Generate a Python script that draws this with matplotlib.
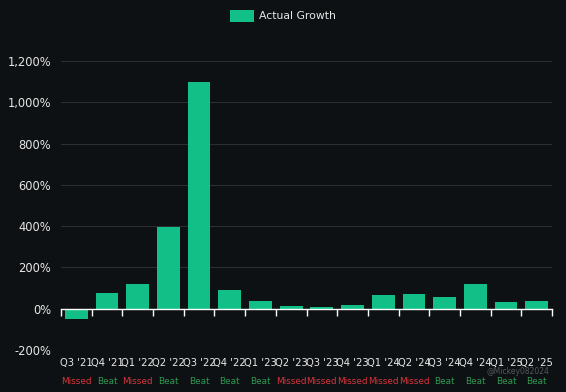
import numpy as np
import matplotlib.pyplot as plt
from matplotlib.ticker import FuncFormatter

quarters = ["Q3 '21", "Q4 '21", "Q1 '22", "Q2 '22", "Q3 '22", "Q4 '22",
            "Q1 '23", "Q2 '23", "Q3 '23", "Q4 '23", "Q1 '24", "Q2 '24",
            "Q3 '24", "Q4 '24", "Q1 '25", "Q2 '25"]
growth = [-50, 74, 122, 394, 1098, 89, 35, 13, 8, 16, 68, 71, 55, 121, 32, 35]
results = ["Missed", "Beat", "Missed", "Beat", "Beat", "Beat", "Beat", "Missed",
           "Missed", "Missed", "Missed", "Missed", "Beat", "Beat", "Beat", "Beat"]
y_ticks = [-200, 0, 200, 400, 600, 800, 1000, 1200]

bg = "#0e1113"
bar_color = "#12bf86"
result_colors = {"Missed": "#d9343c", "Beat": "#2e9a52"}

fig = plt.figure(figsize=(5.66, 3.92), dpi=100, facecolor=bg)
ax = fig.add_axes([61 / 566, 42 / 392, 491 / 566, 289 / 392], facecolor=bg)

x = np.arange(len(quarters))
ax.bar(x, growth, width=0.74, color=bar_color, label="Actual Growth", zorder=3)

ax.set_xlim(-0.5, len(quarters) - 0.5)
ax.set_ylim(y_ticks[0], y_ticks[-1])
ax.set_yticks(y_ticks)
ax.yaxis.set_major_formatter(FuncFormatter(lambda v, p: f"{v:,.0f}%"))
ax.tick_params(axis="y", length=0, pad=7, labelsize=8.3, labelcolor="#e6e6e6")
ax.grid(axis="y", color="#2b2f33", lw=0.8, zorder=0)

for s in ["top", "right", "left"]:
    ax.spines[s].set_visible(False)
ax.spines["bottom"].set_position(("data", 0))
ax.spines["bottom"].set_color("white")
ax.spines["bottom"].set_linewidth(1)
ax.spines["bottom"].set_zorder(4)
ax.set_xticks(np.arange(len(quarters) + 1) - 0.5)
ax.set_xticklabels([])
ax.tick_params(axis="x", length=5, width=1, color="white", direction="out")

tr = ax.get_xaxis_transform()
for i, (q, r) in enumerate(zip(quarters, results)):
    ax.text(i, -0.045, q, transform=tr, ha="center", va="center",
            fontsize=7.2, color="#e6e6e6")
    ax.text(i, -0.108, r, transform=tr, ha="center", va="center",
            fontsize=6.4, color=result_colors[r])

fig.legend(loc="upper center", bbox_to_anchor=(0.5, 1.0), frameon=False,
           fontsize=7.8, labelcolor="#e6e6e6", handlelength=2.2, handleheight=1.3,
           handletextpad=0.5)

fig.text(0.97, 1 - 372 / 392, "@Mickey082024", ha="right", va="center",
         fontsize=5.5, color="#9a9a9a", alpha=0.5)

fig.savefig("out.png", dpi=100, facecolor=bg)
